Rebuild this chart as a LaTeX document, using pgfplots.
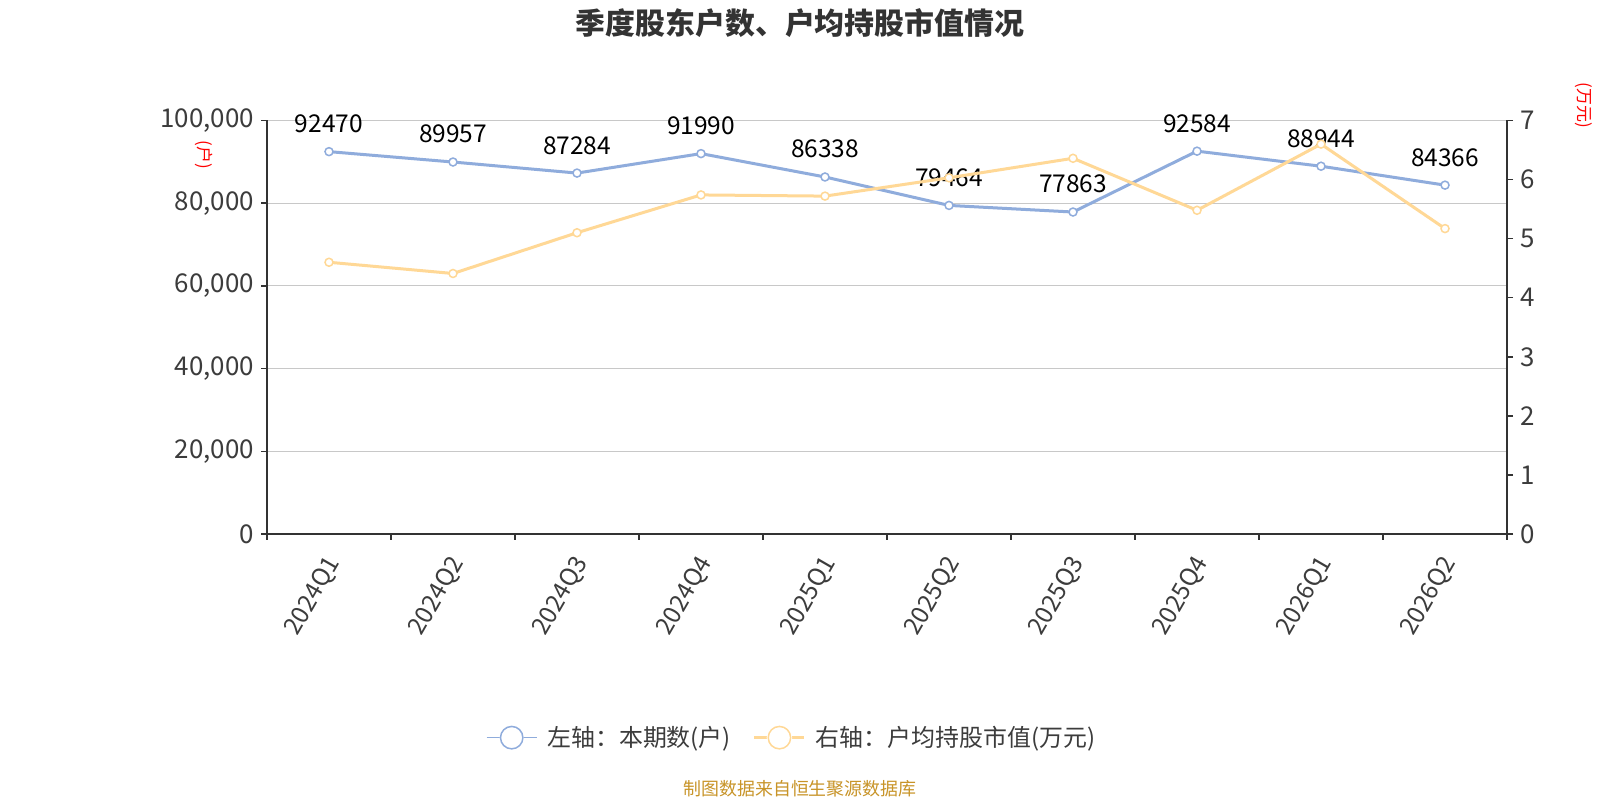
\documentclass[border=0pt]{standalone}
\usepackage{fontspec}
\setmainfont{Noto Sans CJK SC}
\usepackage{pgfplots}
\pgfplotsset{compat=1.18}
\definecolor{blueS}{RGB}{143,172,220}
\definecolor{yelS}{RGB}{255,216,150}
\definecolor{axc}{RGB}{51,51,51}
\definecolor{txc}{RGB}{60,60,60}
\definecolor{gridc}{RGB}{200,200,200}
\definecolor{footc}{RGB}{200,148,40}
\begin{document}
\begin{tikzpicture}
\path[use as bounding box, fill=white] (0bp,0bp) rectangle (800bp,400bp);
\node[font=\fontsize{15}{18}\selectfont\bfseries, text=axc] at (400bp,388.5bp) {季度股东户数、户均持股市值情况};
\node[font=\fontsize{9}{10}\selectfont, text=footc] at (400bp,5.8bp) {制图数据来自恒生聚源数据库};
\begin{axis}[
  at={(133.5bp,133bp)}, anchor=south west, scale only axis,
  width=620bp, height=206.75bp,
  xmin=-0.5, xmax=9.5, ymin=0, ymax=100000,
  axis x line*=bottom, axis y line*=left,
  axis line style={axc, line width=0.75bp},
  xtick={0,...,9},
  xticklabels={2024Q1,2024Q2,2024Q3,2024Q4,2025Q1,2025Q2,2025Q3,2025Q4,2026Q1,2026Q2},
  minor xtick={-0.5,0.5,...,9.5},
  major x tick style={draw=none},
  tick align=outside, major tick length=3bp, minor tick length=3bp,
  tick style={axc, line width=0.75bp},
  ytick={0,20000,40000,60000,80000,100000},
  yticklabels={0,{20,000},{40,000},{60,000},{80,000},{100,000}},
  scaled y ticks=false,
  ymajorgrids, grid style={gridc, line width=0.6bp},
  yticklabel style={font=\fontsize{13}{15}\selectfont, text=txc},
  xticklabel style={font=\fontsize{12.2}{14}\selectfont, text=txc, xshift=-3.5bp, yshift=-2bp, rotate=60, anchor=north east},
  clip=false,
]
\addplot[blueS, line width=1.5bp, mark=*, mark size=2bp, mark options={fill=white, line width=0.75bp},
  nodes near coords, point meta=explicit symbolic,
  every node near coord/.style={font=\fontsize{12.3}{14}\selectfont, text=black, anchor=south, inner sep=0pt, yshift=9bp}]
coordinates {(0,92470)[92470] (1,89957)[89957] (2,87284)[87284] (3,91990)[91990] (4,86338)[86338]
 (5,79464)[79464] (6,77863)[77863] (7,92584)[92584] (8,88944)[88944] (9,84366)[84366]};
\node[rotate=-90, text=red, font=\fontsize{8.5}{10}\selectfont] at (rel axis cs:-0.0508,0.917) {(户)};
\end{axis}
\begin{axis}[
  at={(133.5bp,133bp)}, anchor=south west, scale only axis,
  width=620bp, height=206.75bp,
  xmin=-0.5, xmax=9.5, ymin=0, ymax=7,
  axis y line*=right, axis x line=none,
  axis line style={axc, line width=0.75bp},
  tick align=outside, major tick length=3bp,
  tick style={axc, line width=0.75bp},
  ytick={0,1,2,3,4,5,6,7},
  yticklabels={0,1,2,3,4,5,6,7},
  yticklabel style={font=\fontsize{13}{15}\selectfont, text=txc},
  clip=false,
  legend columns=2,
  legend style={at={(0.4238,-0.4925)}, anchor=center, draw=none, fill=none,
    font=\fontsize{12}{14}\selectfont, text=txc,
    /tikz/every odd column/.style={column sep=3bp},
    /tikz/every even column/.style={column sep=9bp}},
  legend image code/.code={
    \draw[#1, mark=none] (0bp,0bp) -- (25bp,0bp);
    \fill[white] (12.5bp,0bp) circle (5.6bp);
    \draw[#1, mark=none, fill=none, line width=0.75bp] (12.5bp,0bp) circle (5.6bp);
  },
]
\addlegendimage{blueS, line width=0.75bp}
\addlegendentry{左轴：本期数(户)}
\addplot[yelS, line width=1.5bp, mark=*, mark size=2bp, mark options={fill=white, line width=0.75bp}]
coordinates {(0,4.60) (1,4.41) (2,5.10) (3,5.74) (4,5.72) (5,6.03) (6,6.36) (7,5.48) (8,6.60) (9,5.17)};
\addlegendentry{右轴：户均持股市值(万元)}
\node[rotate=-90, text=red, font=\fontsize{8.5}{10}\selectfont] at (rel axis cs:1.062,1.036) {(万元)};
\end{axis}
\end{tikzpicture}
\end{document}
